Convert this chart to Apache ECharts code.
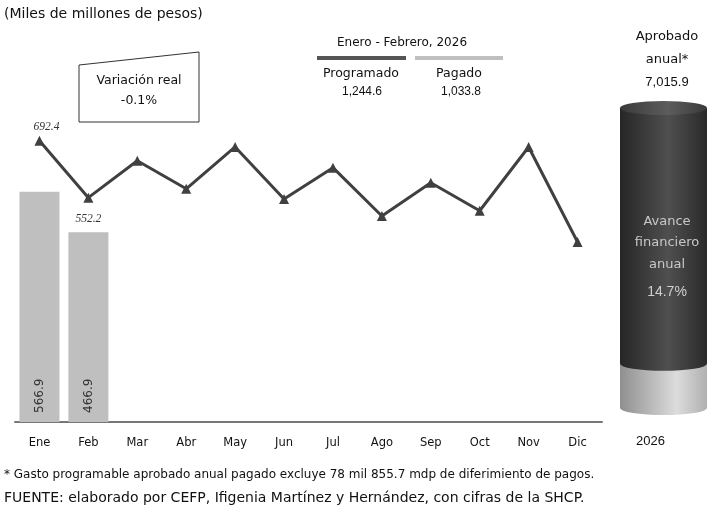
<!DOCTYPE html>
<html><head><meta charset="utf-8">
<script src="https://cdn.jsdelivr.net/npm/echarts@6/dist/echarts.min.js"></script>
<style>html,body{margin:0;padding:0;background:#fff}#c{width:714px;height:516px}</style>
</head><body><div id="c"></div>
<script>
// Data
var months = ['Ene','Feb','Mar','Abr','May','Jun','Jul','Ago','Sep','Oct','Nov','Dic'];
var programado = [692.4, 552.2, 643, 574, 677, 549, 626, 507, 589, 520, 677, 443];
var pagado = [566.9, 466.9, null, null, null, null, null, null, null, null, null, null];
var programadoEneFeb = 1244.6;
var pagadoEneFeb = 1033.8;
var aprobadoAnual = 7015.9;
var yearLabel = ['2026'];
var variacionReal = '-0.1%';

var FONT = 'Liberation Sans';
var WIDE = 'DejaVu Sans';
var avance = (pagadoEneFeb / aprobadoAnual * 100).toFixed(1) + '%';
var restante = +(aprobadoAnual - pagadoEneFeb).toFixed(1);

var darkGrad = new echarts.graphic.LinearGradient(0,0,1,0,[
  {offset:0,color:'#262626'},{offset:0.55,color:'#4f4f4f'},{offset:1,color:'#2a2a2a'}]);
var topGrad = new echarts.graphic.LinearGradient(0,0,1,0,[
  {offset:0,color:'#3a3a3a'},{offset:0.55,color:'#5c5c5c'},{offset:1,color:'#3a3a3a'}]);
var lightGrad = new echarts.graphic.LinearGradient(0,0,1,0,[
  {offset:0,color:'#8f8f8f'},{offset:0.65,color:'#dcdcdc'},{offset:1,color:'#b0b0b0'}]);

function fmt(v){return v.toLocaleString('en-US',{minimumFractionDigits:1});}

var chart = echarts.init(document.getElementById('c'));
chart.setOption({
  backgroundColor:'#fff',
  animation:false,
  grid:[
    {left:15, right:112, top:97, bottom:94},
    {left:620, width:87, top:108, bottom:108}
  ],
  xAxis:[
    {type:'category', data:months, gridIndex:0,
     axisLine:{lineStyle:{color:'#777', width:2}}, axisTick:{show:false},
     axisLabel:{color:'#111', fontFamily:WIDE, fontSize:11.5, margin:15}},
    {type:'category', data:yearLabel, gridIndex:1,
     axisLine:{show:false}, axisTick:{show:false},
     axisLabel:{color:'#111', fontFamily:FONT, fontSize:13, margin:27, padding:[0,26,0,0]}}
  ],
  yAxis:[
    {type:'value', gridIndex:0, min:0, max:800, show:false, splitLine:{show:false}},
    {type:'value', gridIndex:1, min:0, max:aprobadoAnual, show:false, splitLine:{show:false}}
  ],
  series:[
    {type:'bar', name:'Pagado', data:pagado, xAxisIndex:0, yAxisIndex:0, barWidth:40,
     itemStyle:{color:'#bfbfbf'},
     label:{show:true, position:'insideBottom', rotate:90, align:'left', verticalAlign:'middle',
            distance:9, color:'#333', fontFamily:WIDE, fontSize:12,
            formatter:function(p){return p.value==null?'':p.value.toFixed(1);}}},
    {type:'line', name:'Programado', data:programado.map(function(v,i){
        var d={value:v};
        if(i===0) d.label={show:true, position:'top', distance:3, offset:[7,0]};
        if(i===1) d.label={show:true, position:'bottom', distance:10};
        return d;}),
     xAxisIndex:0, yAxisIndex:0, symbol:'triangle', symbolSize:10, z:5,
     lineStyle:{color:'#404040', width:3}, itemStyle:{color:'#404040'},
     label:{show:false, color:'#333', fontFamily:'Liberation Serif', fontStyle:'italic', fontSize:11.5,
            formatter:function(p){return p.value.toFixed(1);}}},
    // cylinder
    {type:'bar', stack:'cyl', data:[pagadoEneFeb], xAxisIndex:1, yAxisIndex:1, barWidth:87,
     itemStyle:{color:lightGrad}, z:2},
    {type:'bar', stack:'cyl', data:[restante], xAxisIndex:1, yAxisIndex:1, barWidth:87,
     itemStyle:{color:darkGrad}, z:2},
    {type:'pictorialBar', data:[0], xAxisIndex:1, yAxisIndex:1, symbol:'circle',
     symbolSize:[87,14], symbolOffset:[0,'50%'], itemStyle:{color:lightGrad}, z:1},
    {type:'pictorialBar', data:[pagadoEneFeb], xAxisIndex:1, yAxisIndex:1, symbol:'circle',
     symbolSize:[87,14], symbolPosition:'end', symbolOffset:[0,'-50%'], itemStyle:{color:darkGrad}, z:3},
    {type:'pictorialBar', data:[aprobadoAnual], xAxisIndex:1, yAxisIndex:1, symbol:'circle',
     symbolSize:[87,14], symbolPosition:'end', symbolOffset:[0,'-50%'], itemStyle:{color:topGrad}, z:4}
  ],
  graphic:[
    {type:'text', left:4, top:7, style:{text:'(Miles de millones de pesos)', fill:'#111', font:'14px '+WIDE}},
    {type:'polygon', shape:{points:[[79,65],[199,52],[199,122],[79,122]]},
     style:{fill:'#fff', stroke:'#333', lineWidth:1}, z:10},
    {type:'text', x:139, y:81, style:{text:'Variación real', fill:'#111', font:'12.5px '+WIDE, textAlign:'center', textVerticalAlign:'middle'}, z:11},
    {type:'text', x:139, y:101, style:{text:variacionReal, fill:'#111', font:'12.5px '+WIDE, textAlign:'center', textVerticalAlign:'middle'}, z:11},
    // legend
    {type:'text', x:402, y:43, style:{text:'Enero - Febrero, 2026', fill:'#111', font:'12px '+WIDE, textAlign:'center', textVerticalAlign:'middle'}},
    {type:'rect', shape:{x:317, y:56, width:89, height:4}, style:{fill:'#555'}},
    {type:'rect', shape:{x:415, y:56, width:88, height:4}, style:{fill:'#bfbfbf'}},
    {type:'text', x:361, y:74, style:{text:'Programado', fill:'#111', font:'12.5px '+WIDE, textAlign:'center', textVerticalAlign:'middle'}},
    {type:'text', x:362, y:92, style:{text:fmt(programadoEneFeb), fill:'#111', font:'12px '+FONT, textAlign:'center', textVerticalAlign:'middle'}},
    {type:'text', x:459, y:74, style:{text:'Pagado', fill:'#111', font:'12.5px '+WIDE, textAlign:'center', textVerticalAlign:'middle'}},
    {type:'text', x:461, y:92, style:{text:fmt(pagadoEneFeb), fill:'#111', font:'12px '+FONT, textAlign:'center', textVerticalAlign:'middle'}},
    // aprobado
    {type:'text', x:667, y:37, style:{text:'Aprobado', fill:'#111', font:'13px '+WIDE, textAlign:'center', textVerticalAlign:'middle'}},
    {type:'text', x:667, y:60, style:{text:'anual*', fill:'#111', font:'13px '+WIDE, textAlign:'center', textVerticalAlign:'middle'}},
    {type:'text', x:667, y:82, style:{text:fmt(aprobadoAnual), fill:'#111', font:'13px '+FONT, textAlign:'center', textVerticalAlign:'middle'}},
    // cylinder text
    {type:'text', x:667, y:222, style:{text:'Avance', fill:'#c8c8c8', font:'13px '+WIDE, textAlign:'center', textVerticalAlign:'middle'}, z:20},
    {type:'text', x:667, y:243, style:{text:'financiero', fill:'#c8c8c8', font:'13px '+WIDE, textAlign:'center', textVerticalAlign:'middle'}, z:20},
    {type:'text', x:667, y:265, style:{text:'anual', fill:'#c8c8c8', font:'13px '+WIDE, textAlign:'center', textVerticalAlign:'middle'}, z:20},
    {type:'text', x:667, y:292, style:{text:avance, fill:'#d0d0d0', font:'14px '+FONT, textAlign:'center', textVerticalAlign:'middle'}, z:20},
    // footer
    {type:'text', left:4, top:469, style:{text:'* Gasto programable aprobado anual pagado excluye 78 mil 855.7 mdp de diferimiento de pagos.', fill:'#111', font:'12px '+WIDE}},
    {type:'text', left:4, top:491, style:{text:'FUENTE: elaborado por CEFP, Ifigenia Martínez y Hernández, con cifras de la SHCP.', fill:'#111', font:'14px '+WIDE}}
  ]
});
</script></body></html>
